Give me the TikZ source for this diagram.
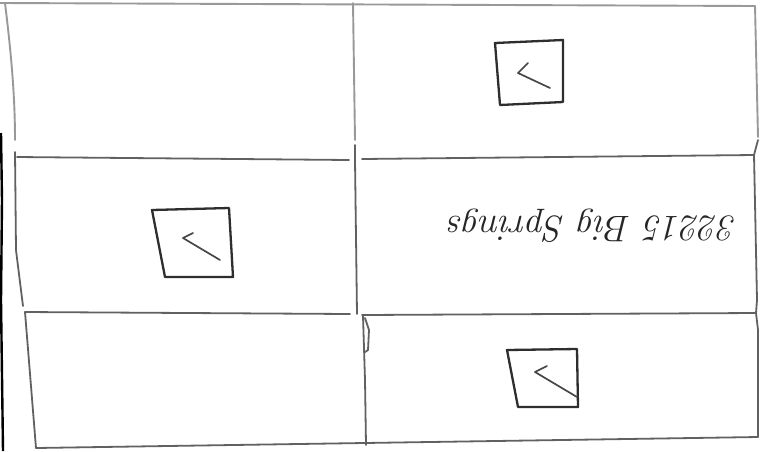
\documentclass[tikz,border=0pt]{standalone}
\usepackage{fontspec}
\begin{document}
\begin{tikzpicture}[x=1pt,y=-1pt,
  ink/.style={draw=black!62,line width=1.8pt,line cap=round,line join=round},
  faint/.style={draw=black!40,line width=1.9pt,line cap=round,line join=round},
  boxink/.style={draw=black!82,line width=2.3pt,line cap=round,line join=round},
  tick/.style={draw=black!72,line width=1.7pt,line cap=round,line join=round}]
\useasboundingbox (0,0) rectangle (765,451);
\fill[white] (0,0) rectangle (765,451);
% grid corner coordinates
\coordinate (tl) at (0,3);
\coordinate (tm) at (353,3);
\coordinate (tr) at (755,6);
\coordinate (l1) at (17,157);
\coordinate (m1) at (355,160);
\coordinate (r1) at (754,155);
\coordinate (l2) at (25,312);
\coordinate (m2) at (357,314);
\coordinate (r2) at (756,313);
\coordinate (bl) at (36,448);
\coordinate (bm) at (366,445);
\coordinate (br) at (758,437);
% scan edge
\draw[black,line width=2.4pt] (1,133) -- (2,200) -- (1,300) -- (3,451);
% top line and upper verticals
\draw[faint] (tl) -- (tr);
\draw[faint] (5,3) .. controls (12,60) and (15,100) .. (15,140);
\draw[faint] (tm) -- (355,140);
\draw[faint] (tr) -- (758,137);
% row lines
\draw[ink] (l1) -- (349,160);
\draw[ink] (362,159) -- (r1);
\draw[ink] (l2) -- (350,314);
\draw[ink] (362,315) -- (r2);
\draw[ink] (bl) -- (br);
% verticals
\draw[ink] (15,152) -- (16,250) -- (22,298) -- (23,306);
\draw[ink] (l2) -- (bl);
\draw[ink] (355,145) -- (m1) -- (m2);
\draw[ink] (363,316) -- (365,380) -- (bm);
\draw[ink] (365,318) -- (369,330) -- (368,350) -- (365,352);
\draw[ink] (758,140) -- (r1) -- (757,300) -- (r2) -- (758,330) -- (br);
% boxes with ticks
\draw[boxink] (495,43) -- (563,40) -- (563,102) -- (500,105) -- cycle;
\draw[tick] (528,63) -- (518,73) -- (550,88);
\draw[boxink] (152,210) -- (229,208) -- (233,277) -- (165,277) -- cycle;
\draw[tick] (193,233) -- (183,238) -- (220,260);
\draw[boxink] (507,350) -- (577,349) -- (578,407) -- (518,407) -- cycle;
\draw[tick] (547,366) -- (535,372) -- (577,397);
% upside-down label
\node[rotate=180,text=black!85,inner sep=0pt] (lbl) at (593,226)
  {\fontsize{37}{40}\selectfont\itshape 32215 Big Springs};
\end{tikzpicture}
\end{document}
